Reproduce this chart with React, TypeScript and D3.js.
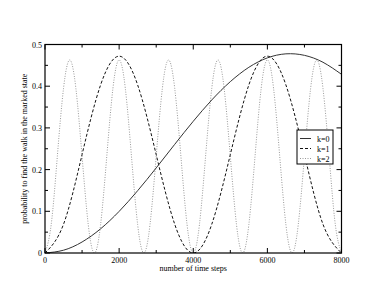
import * as d3 from "d3";
import { useEffect, useRef } from "react";

// time grid for the two slower curves
const timeSteps = [0, 500, 1000, 1500, 2000, 2500, 3000, 3500, 4000, 4500, 5000, 5500, 6000, 6500, 7000, 7500, 8000];
const k0Values = [0, 0.0067, 0.0264, 0.058, 0.0998, 0.1494, 0.204, 0.2606, 0.3159, 0.367, 0.4109, 0.4453, 0.4679, 0.4776, 0.474, 0.4574, 0.4285];
const k1Values = [0, 0.069, 0.236, 0.403, 0.472, 0.403, 0.236, 0.069, 0, 0.069, 0.236, 0.403, 0.472, 0.403, 0.236, 0.069, 0];

// finer grid for the fast oscillating curve
const fineSteps = [
  0, 167, 333, 500, 667, 833, 1000, 1167, 1333, 1500, 1667, 1833, 2000, 2167, 2333, 2500, 2667, 2833,
  3000, 3167, 3333, 3500, 3667, 3833, 4000, 4167, 4333, 4500, 4667, 4833, 5000, 5167, 5333, 5500,
  5667, 5833, 6000, 6167, 6333, 6500, 6667, 6833, 7000, 7167, 7333, 7500, 7667, 7833, 8000,
];
const k2Values = [
  0, 0.068, 0.232, 0.395, 0.463, 0.395, 0.232, 0.068,
  0, 0.068, 0.232, 0.395, 0.463, 0.395, 0.232, 0.068,
  0, 0.068, 0.232, 0.395, 0.463, 0.395, 0.232, 0.068,
  0, 0.068, 0.232, 0.395, 0.463, 0.395, 0.232, 0.068,
  0, 0.068, 0.232, 0.395, 0.463, 0.395, 0.232, 0.068,
  0, 0.068, 0.232, 0.395, 0.463, 0.395, 0.232, 0.068,
  0,
];

const xTicks = [0, 2000, 4000, 6000, 8000];
const xMinor = [1000, 3000, 5000, 7000];
const yTicks = [0, 0.1, 0.2, 0.3, 0.4, 0.5];
const yMinor = [0.05, 0.15, 0.25, 0.35, 0.45];

const seriesLabels = ["k=0", "k=1", "k=2"];

export default function App() {
  const ref = useRef<SVGSVGElement>(null);

  useEffect(() => {
    if (!ref.current) return;
    const svg = d3.select(ref.current);
    svg.selectAll("*").remove();

    const width = 385,
      height = 298,
      margin = { top: 44.5, right: 43.5, bottom: 45, left: 45 };
    const font = "'Liberation Serif', 'DejaVu Serif', serif";

    const x = d3.scaleLinear().domain([0, 8000]).range([margin.left, width - margin.right]);
    const y = d3.scaleLinear().domain([0, 0.5]).range([height - margin.bottom, margin.top]);

    const styles = [
      { stroke: "#333", dash: null, width: 1 },
      { stroke: "#111", dash: "3,2", width: 1 },
      { stroke: "#999", dash: "1,1.5", width: 1 },
    ];
    const series = [
      timeSteps.map((t, i) => [t, k0Values[i]]),
      timeSteps.map((t, i) => [t, k1Values[i]]),
      fineSteps.map((t, i) => [t, k2Values[i]]),
    ];

    const line = d3
      .line<number[]>()
      .x((d) => x(d[0]))
      .y((d) => y(d[1]))
      .curve(d3.curveNatural);

    svg
      .append("defs")
      .append("clipPath")
      .attr("id", "plotClip")
      .append("rect")
      .attr("x", x(0))
      .attr("y", y(0.5))
      .attr("width", x(8000) - x(0))
      .attr("height", y(0) - y(0.5));

    const g = svg.append("g").attr("clip-path", "url(#plotClip)");
    // draw k=2 first so darker curves sit on top
    [2, 1, 0].forEach((i) => {
      g.append("path")
        .attr("d", line(series[i] as number[][]))
        .attr("fill", "none")
        .attr("stroke", styles[i].stroke)
        .attr("stroke-width", styles[i].width)
        .attr("stroke-dasharray", styles[i].dash);
    });

    // ticks pointing inward on all four sides
    const ticks = svg.append("g").attr("stroke", "#000").attr("stroke-width", 1);
    const addX = (vals: number[], len: number) => {
      vals.forEach((v) => {
        ticks.append("line").attr("x1", x(v)).attr("x2", x(v)).attr("y1", y(0)).attr("y2", y(0) - len);
        ticks.append("line").attr("x1", x(v)).attr("x2", x(v)).attr("y1", y(0.5)).attr("y2", y(0.5) + len);
      });
    };
    const addY = (vals: number[], len: number) => {
      vals.forEach((v) => {
        ticks.append("line").attr("x1", x(0)).attr("x2", x(0) + len).attr("y1", y(v)).attr("y2", y(v));
        ticks.append("line").attr("x1", x(8000)).attr("x2", x(8000) - len).attr("y1", y(v)).attr("y2", y(v));
      });
    };
    addX(xTicks, 5);
    addX(xMinor, 3);
    addY(yTicks, 5);
    addY(yMinor, 3);

    // frame
    svg
      .append("rect")
      .attr("x", x(0))
      .attr("y", y(0.5))
      .attr("width", x(8000) - x(0))
      .attr("height", y(0) - y(0.5))
      .attr("fill", "none")
      .attr("stroke", "#000")
      .attr("stroke-width", 1.2);

    // tick labels
    svg
      .append("g")
      .selectAll("text")
      .data(xTicks)
      .enter()
      .append("text")
      .attr("x", (d) => x(d))
      .attr("y", y(0) + 10)
      .attr("text-anchor", "middle")
      .attr("font-family", font)
      .attr("font-size", "8px")
      .attr("fill", "#000")
      .text((d) => String(d));

    svg
      .append("g")
      .selectAll("text")
      .data(yTicks)
      .enter()
      .append("text")
      .attr("x", x(0) - 3)
      .attr("y", (d) => y(d) + 3)
      .attr("text-anchor", "end")
      .attr("font-family", font)
      .attr("font-size", "8px")
      .attr("fill", "#000")
      .text((d) => (d === 0 ? "0" : d3.format(".1f")(d)));

    // axis titles
    svg
      .append("text")
      .attr("x", (x(0) + x(8000)) / 2)
      .attr("y", y(0) + 18)
      .attr("text-anchor", "middle")
      .attr("font-family", font)
      .attr("font-size", "8px")
      .attr("fill", "#000")
      .text("number of time steps");

    svg
      .append("text")
      .attr("transform", `translate(27, ${(y(0) + y(0.5)) / 2}) rotate(-90)`)
      .attr("text-anchor", "middle")
      .attr("font-family", font)
      .attr("font-size", "8px")
      .attr("fill", "#000")
      .text("probability to find the walk in the marked state");

    // legend
    const lg = svg.append("g").attr("transform", "translate(297, 130)");
    lg.append("rect")
      .attr("width", 36)
      .attr("height", 34)
      .attr("fill", "#fff")
      .attr("stroke", "#000")
      .attr("stroke-width", 1);
    seriesLabels.forEach((label, i) => {
      const ry = 8.5 + i * 10;
      lg.append("line")
        .attr("x1", 3)
        .attr("x2", 14)
        .attr("y1", ry)
        .attr("y2", ry)
        .attr("stroke", styles[i].stroke)
        .attr("stroke-width", styles[i].width)
        .attr("stroke-dasharray", styles[i].dash);
      lg.append("text")
        .attr("x", 20)
        .attr("y", ry + 3)
        .attr("font-family", font)
        .attr("font-size", "8px")
        .attr("fill", "#000")
        .text(label);
    });
  }, []);

  return (
    <svg
      ref={ref}
      width={385}
      height={298}
      style={{ position: "absolute", left: 0, top: 0, background: "#fff" }}
    />
  );
}
